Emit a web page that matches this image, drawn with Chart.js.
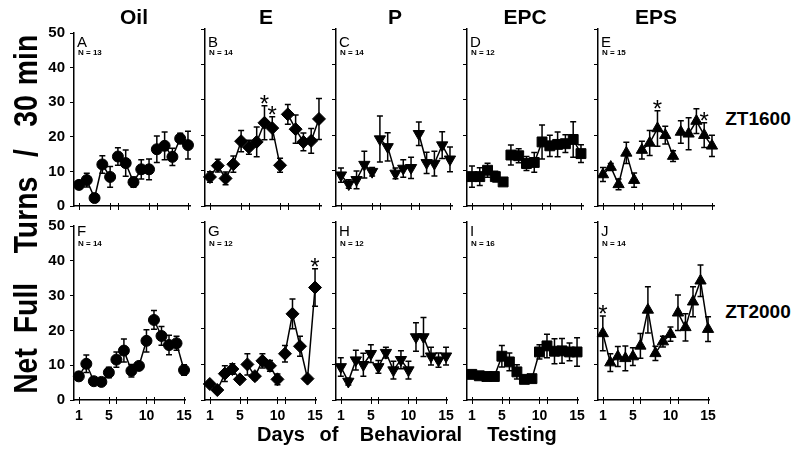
<!DOCTYPE html>
<html>
<head>
<meta charset="utf-8">
<script src="https://cdn.jsdelivr.net/npm/chart.js@4.4.0/dist/chart.umd.min.js"></script>
<style>
  body { margin: 0; background: #fff; }
  #page { position: relative; width: 800px; height: 457px; overflow: hidden; font-family: "Liberation Sans", Arial, sans-serif; color: #000; }
  canvas { position: absolute; }
  .t { position: absolute; white-space: nowrap; font-weight: bold; line-height: 1; transform: translate(-50%, -50%); }
  .rot { position: absolute; white-space: nowrap; font-weight: bold; line-height: 1; font-size: 33px; transform: translate(-50%, -50%) rotate(-90deg) scaleX(0.86); }
  .lt { position: absolute; font-size: 15px; line-height: 15px; }
  .n { position: absolute; font-size: 8px; line-height: 8px; font-weight: bold; }
</style>
</head>
<body>
<div id="page"></div>
<script>
const days = [1, 2, 3, 4, 5, 6, 7, 8, 9, 10, 11, 12, 13, 14, 15];
const xTicks = [1, 5, 6, 10, 11, 15];
const xLabels = [1, 5, 10, 15];
const groups = ['Oil', 'E', 'P', 'EPC', 'EPS'];
const rowLabels = ['ZT1600', 'ZT2000'];
const letters = [['A', 'B', 'C', 'D', 'E'], ['F', 'G', 'H', 'I', 'J']];
const nCounts = [[13, 14, 14, 12, 15], [14, 12, 12, 16, 14]];

// ZT1600 (top row) means and SEM
const oilTop = [6.1, 7.5, 2.3, 12, 8.4, 14.3, 12.4, 6.9, 10.6, 10.6, 16.4, 17.4, 14.2, 19.5, 17.6];
const oilTopErr = [1.2, 2, 0.5, 2.5, 3, 2.5, 3.8, 1.5, 2.8, 3, 3.8, 4, 2.5, 1.5, 4];
const eTop = [8.2, 11.4, 7.8, 11.8, 18.3, 16.6, 18.1, 23.5, 22, 11.5, 25.9, 21.7, 18.1, 18.4, 24.6];
const eTopErr = [1.5, 1.8, 1.8, 2.3, 3, 2, 4.2, 4.8, 3.2, 2, 2.8, 4, 2.5, 3.5, 5.8];
const pTop = [8.7, 6.2, 7.4, 11.7, 9.7, 18.9, 16.7, 9.2, 10.6, 10.8, 20.4, 12.2, 12, 17.2, 13.2];
const pTopErr = [2, 1.2, 2.5, 3.8, 1.2, 6.5, 4, 1.5, 2.5, 3, 3.3, 3, 3.5, 3.8, 3.5];
const epcTop = [8.3, 8.3, 10.1, 8.3, 6.8, 14.4, 14.2, 12, 12.3, 18.1, 17, 17.4, 17.6, 18.8, 14.8];
const epcTopErr = [3, 2.5, 2, 1.5, 0.8, 2.8, 2, 2, 2.8, 4.8, 3, 3.5, 2.5, 5, 2.5];
const epsTop = [8.9, 11, 6.1, 15, 7.3, 15.8, 17.8, 21.9, 20, 14.1, 20.9, 20.4, 24, 20, 17];
const epsTopErr = [2, 1, 1.5, 3, 2, 2.5, 3.5, 5, 2.5, 1.5, 3.2, 4.5, 3.5, 3.5, 3];

// ZT2000 (bottom row)
const oilBot = [6.8, 10.4, 5.4, 5.2, 7.9, 11.6, 14.2, 8.4, 9.8, 17, 23, 18.4, 15.8, 16.3, 8.6];
const oilBotErr = [1.2, 2.5, 0.6, 0.5, 1.5, 2.2, 3.3, 1.8, 1, 3.2, 2.7, 2.7, 2.8, 2, 1.5];
const eBot = [4.5, 2.8, 7.4, 8.7, 5.8, 10, 6.7, 11, 9.6, 5.8, 13, 24.2, 15.1, 6, 31.6];
const eBotErr = [0.5, 0.5, 2.2, 1.5, 0.8, 3, 1, 2, 1.5, 1.5, 2.3, 4.2, 2.8, 0.5, 5.3];
const pBot = [9.3, 5.2, 11.2, 9.9, 13, 9.3, 13.3, 8.4, 11.3, 8.4, 17.7, 17.7, 12.3, 11.2, 12.3];
const pBotErr = [2.6, 1, 2.8, 3.2, 2.5, 1.8, 1.5, 2.5, 2.5, 2.5, 4, 5.5, 2.5, 2, 2.5];
const epcBot = [7.2, 6.8, 6.6, 6.6, 12.3, 10.7, 7.9, 5.8, 6, 13.5, 15.2, 13.7, 13.8, 13.5, 13.5];
const epcBotErr = [1, 1, 1, 1, 3, 2.5, 2, 1, 1, 2, 3.3, 3.5, 3.5, 2.5, 4];
const epsBot = [18.7, 10.5, 12.2, 11.7, 12.2, 15.2, 25.3, 13.1, 16.4, 18.5, 24.5, 20.4, 27.6, 33.5, 19.9];
const epsBotErr = [4.9, 2.5, 2.8, 3.5, 2.5, 3.5, 6.5, 2, 1.5, 2, 5, 3.8, 4.2, 4.4, 3.5];

// days marked with * (p < 0.05)
const starsTop = [[], [8, 9], [], [], [8, 14]];
const starsBot = [[], [15], [], [], [1]];

const means = [[oilTop, eTop, pTop, epcTop, epsTop], [oilBot, eBot, pBot, epcBot, epsBot]];
const errs = [[oilTopErr, eTopErr, pTopErr, epcTopErr, epsTopErr], [oilBotErr, eBotErr, pBotErr, epcBotErr, epsBotErr]];
const stars = [starsTop, starsBot];

const markers = ['circle', 'rectRot', 'triangle', 'rect', 'triangle'];
const markerRot = [0, 0, 180, 0, 0];
const markerSize = [5.5, 6.5, 6.5, 7, 6.5];

const FONT = '"Liberation Sans", Arial, sans-serif';
Chart.defaults.color = '#000';
Chart.defaults.font.family = FONT;

const axisX = [74, 205, 336, 467, 598];
const rowTop = [29, 222];
const plotH = [177, 178];
const page = document.getElementById('page');

function addText(cls, text, x, y, style) {
  const d = document.createElement('div');
  d.className = cls;
  d.textContent = text;
  d.style.left = x + 'px';
  d.style.top = y + 'px';
  Object.assign(d.style, style || {});
  page.appendChild(d);
  return d;
}

// error bars, x tick crosses, significance stars
const extras = {
  id: 'extras',
  beforeDatasetsDraw(chart, args, opts) {
    const { ctx, scales: { x, y } } = chart;
    ctx.save();
    ctx.strokeStyle = '#000';
    ctx.lineWidth = 1.5;
    opts.err.forEach((e, i) => {
      const v = opts.mean[i];
      const px = x.getPixelForValue(days[i]);
      const hi = y.getPixelForValue(v + e);
      const lo = y.getPixelForValue(Math.max(0, v - e));
      ctx.beginPath();
      ctx.moveTo(px, hi); ctx.lineTo(px, lo);
      ctx.moveTo(px - 3, hi); ctx.lineTo(px + 3, hi);
      ctx.moveTo(px - 3, lo); ctx.lineTo(px + 3, lo);
      ctx.stroke();
    });
    ctx.restore();
  },
  afterDraw(chart, args, opts) {
    const { ctx, scales: { x, y } } = chart;
    const y0 = y.getPixelForValue(0);
    ctx.save();
    ctx.strokeStyle = '#000';
    ctx.lineWidth = 1;
    xTicks.forEach(t => {
      const px = Math.round(x.getPixelForValue(t)) + 0.5;
      ctx.beginPath();
      ctx.moveTo(px, y0 - 3);
      ctx.lineTo(px, y0 + 4);
      ctx.stroke();
    });
    ctx.fillStyle = '#000';
    ctx.font = '24px ' + FONT;
    ctx.textAlign = 'center';
    ctx.textBaseline = 'alphabetic';
    opts.stars.forEach(d => {
      const i = d - 1;
      const px = x.getPixelForValue(d);
      const py = y.getPixelForValue(opts.mean[i] + opts.err[i]);
      ctx.fillText('*', px, py + 6);
    });
    ctx.restore();
  }
};

for (let r = 0; r < 2; r++) {
  for (let c = 0; c < 5; c++) {
    const cv = document.createElement('canvas');
    const W = 171, H = 10 + plotH[r] + 25;
    cv.width = W; cv.height = H;
    cv.style.left = (axisX[c] - 45) + 'px';
    cv.style.top = (rowTop[r] - 10) + 'px';
    page.appendChild(cv);

    new Chart(cv, {
      type: 'line',
      data: {
        datasets: [{
          data: days.map((d, i) => ({ x: d, y: means[r][c][i] })),
          clip: false,
          borderColor: '#000',
          borderWidth: 1.5,
          pointStyle: markers[c],
          pointRotation: markerRot[c],
          pointRadius: markerSize[c],
          pointBackgroundColor: '#000',
          pointBorderColor: '#000',
          pointBorderWidth: 1,
          tension: 0,
          // weeks are drawn as separate runs: 1-5, 6-10, 11-15
          segment: {
            borderColor: ctx => (ctx.p0DataIndex === 4 || ctx.p0DataIndex === 9) ? 'rgba(0,0,0,0)' : '#000'
          }
        }]
      },
      options: {
        responsive: false,
        animation: false,
        devicePixelRatio: 1,
        layout: { padding: { top: 10, right: 10, left: 0, bottom: 0 } },
        scales: {
          x: {
            type: 'linear',
            min: 0.36,
            max: 15.26,
            afterBuildTicks: s => { s.ticks = xTicks.map(v => ({ value: v })); },
            afterFit: s => { s.height = 25; },
            ticks: {
              display: r === 1,
              autoSkip: false,
              maxRotation: 0,
              padding: 8,
              font: { size: 14, weight: 'bold' },
              callback: v => xLabels.includes(v) ? String(v) : ''
            },
            grid: { display: false, drawTicks: false },
            border: { color: '#000', width: 1.5 }
          },
          y: {
            min: 0,
            max: 50,
            afterFit: s => { s.width = 45; },
            ticks: {
              display: c === 0,
              stepSize: 10,
              padding: 5,
              font: { size: 15, weight: 'bold' }
            },
            grid: { drawOnChartArea: false, tickLength: 4, color: '#000', lineWidth: 1 },
            border: { color: '#000', width: 1.5 }
          }
        },
        plugins: {
          legend: { display: false },
          tooltip: { enabled: false },
          extras: { mean: means[r][c], err: errs[r][c], stars: stars[r][c] }
        }
      },
      plugins: [extras]
    });

    addText('lt', letters[r][c], axisX[c] + 3, r === 0 ? 34 : 223);
    addText('n', 'N = ' + nCounts[r][c], axisX[c] + 4, r === 0 ? 49 : 240);
  }
}

// column titles
const titleX = [134, 266, 395, 525, 656];
groups.forEach((g, i) => addText('t', g, titleX[i], 16, { fontSize: '21px' }));

// row labels
addText('t', rowLabels[0], 758, 118, { fontSize: '19px' });
addText('t', rowLabels[1], 758, 311, { fontSize: '19px' });

// y axis title, word by word
const yWords = ['Net', 'Full', 'Turns', '/', '30', 'min'];
const yWordPos = [371, 308, 215, 153, 111, 60];
yWords.forEach((w, i) => addText('rot', w, 25, yWordPos[i]));

// x axis title
const xWords = ['Days', 'of', 'Behavioral', 'Testing'];
const xWordPos = [281, 329, 411, 522];
xWords.forEach((w, i) => addText('t', w, xWordPos[i], 434, { fontSize: '20px' }));
</script>
</body>
</html>
